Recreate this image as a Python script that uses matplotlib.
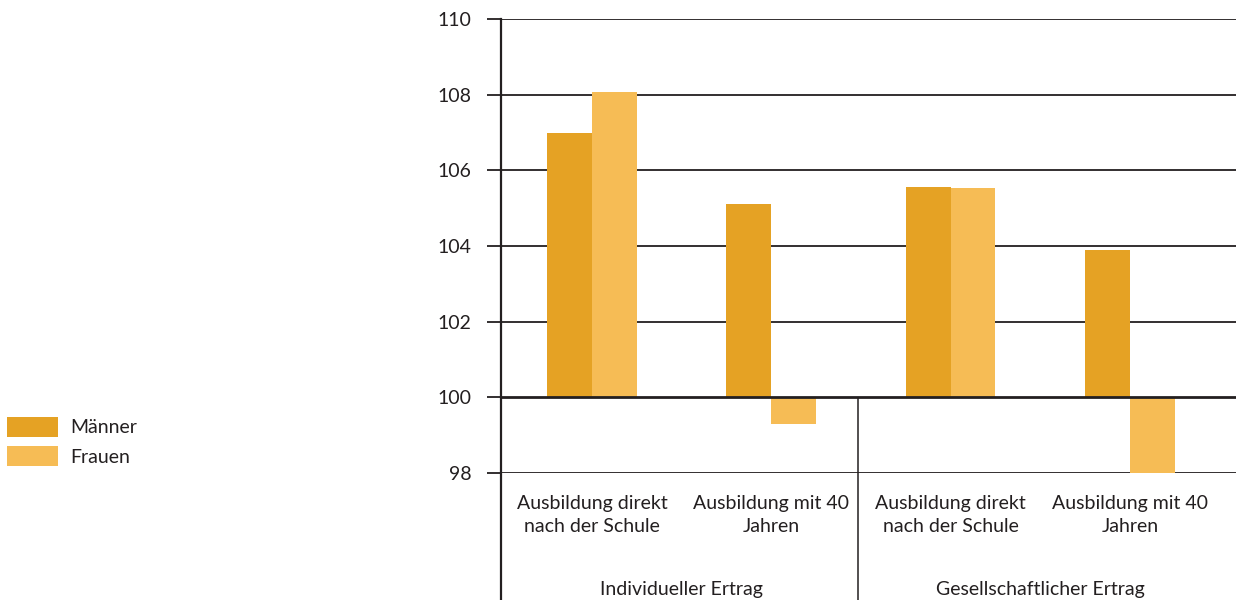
import numpy as np
import matplotlib.pyplot as plt
import matplotlib.transforms as mtransforms

plt.rcParams['font.family'] = ['Lato', 'DejaVu Sans']

# Daten
kategorien = ["Ausbildung direkt\nnach der Schule", "Ausbildung mit 40\nJahren",
              "Ausbildung direkt\nnach der Schule", "Ausbildung mit 40\nJahren"]
gruppen = ["Individueller Ertrag", "Gesellschaftlicher Ertrag"]
maenner = [107.0, 105.1, 105.57, 103.9]
frauen = [108.08, 99.3, 105.54, 98.0]
y_ticks = [98, 100, 102, 104, 106, 108, 110]

basis = 100
c_m = "#E5A224"
c_f = "#F6BC55"
dunkel = "#231F20"
fs = 14

fig = plt.figure(figsize=(12.36, 6), dpi=100)
ax = fig.add_axes([501/1236, 1 - 473/600, 1 - 501/1236, (473 - 19)/600])

x = np.arange(len(kategorien))
w = 0.25
ax.bar(x - w/2, np.array(maenner) - basis, w, bottom=basis, color=c_m, label="Männer", zorder=3)
ax.bar(x + w/2, np.array(frauen) - basis, w, bottom=basis, color=c_f, label="Frauen", zorder=3)

ax.set_xlim(-0.507, 3.591)
ax.set_ylim(98, 110)
ax.set_yticks(y_ticks)
for t in y_ticks:
    lw = 2.0 if t == basis else 1.3
    ax.axhline(t, color=dunkel, lw=lw, zorder=2 if t != basis else 4)

for s in ["top", "right", "bottom", "left"]:
    ax.spines[s].set_visible(False)

ax.tick_params(axis="y", length=10, width=1.3, color=dunkel, pad=11, labelsize=fs, labelcolor=dunkel)
ax.set_xticks(x)
ax.set_xticklabels(kategorien, fontsize=fs, color=dunkel, linespacing=1.4)
ax.tick_params(axis="x", length=0, pad=16)

# linke Achse und Trennlinie bis zum unteren Rand
trans = mtransforms.blended_transform_factory(ax.transData, fig.transFigure)
ax.plot([-0.507, -0.507], [1 - 19/600, 0], transform=trans, color=dunkel, lw=1.6, clip_on=False, zorder=5)
ax.plot([1.483, 1.483], [1 - 397.5/600, 0], transform=trans, color=dunkel, lw=1.1, clip_on=False, zorder=5)

ax.text(0.5, 1 - 589/600, gruppen[0], transform=trans, ha="center", va="center", fontsize=fs, color=dunkel)
ax.text(2.5, 1 - 589/600, gruppen[1], transform=trans, ha="center", va="center", fontsize=fs, color=dunkel)

handles, labels = ax.get_legend_handles_labels()
fig.legend(handles, labels, loc="center left", bbox_to_anchor=(7/1236, 1 - 441.5/600),
           frameon=False, fontsize=fs, handlelength=2.63, handleheight=1.18,
           handletextpad=0.62, labelspacing=0.5, borderpad=0, borderaxespad=0,
           labelcolor=dunkel)

fig.savefig("out.png", dpi=100)
